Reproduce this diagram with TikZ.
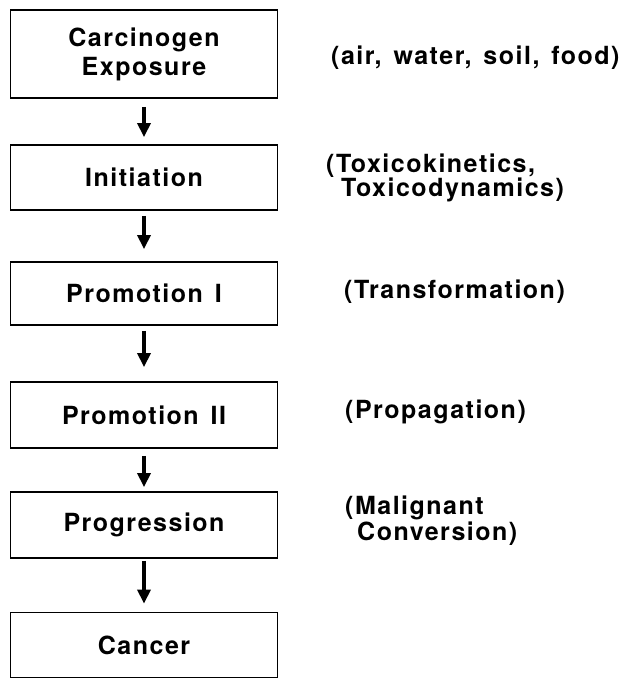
\documentclass[tikz,border=0pt]{standalone}
\usepackage{fontspec}
\newfontfamily\hv[LetterSpace=6,WordSpace=1.4]{TeX Gyre Heros}
\usetikzlibrary{arrows.meta}
\begin{document}
\begin{tikzpicture}[x=1pt,y=-1pt,
  stagebox/.style={draw=black,line width=1.8pt,minimum width=267pt,inner sep=0pt,align=center,
    font=\hv\bfseries\fontsize{25}{29}\selectfont},
  note/.style={anchor=base west,inner sep=0pt,align=left,
    font=\hv\bfseries\fontsize{25}{24}\selectfont},
  flow/.style={line width=3.4pt,-{Triangle[length=14pt,width=13pt]}}]
\useasboundingbox (0,0) rectangle (628,679);
\node[stagebox,minimum height=88pt] (exp) at (144,54) {Carcinogen\\Exposure};
\node[stagebox,minimum height=65pt] (ini) at (144,177.5) {Initiation};
\node[stagebox,minimum height=63pt] (pro1) at (144,293.5) {Promotion I};
\node[stagebox,minimum height=66pt] (pro2) at (144,415) {Promotion II};
\node[stagebox,minimum height=66pt] (prog) at (144,525) {Progression};
\node[stagebox,minimum height=65pt] (can) at (144,645) {Cancer};
\draw[flow,shorten <=8pt,shorten >=7pt] (exp) -- (ini);
\draw[flow,shorten <=5pt,shorten >=12pt] (ini) -- (pro1);
\draw[flow,shorten <=5pt,shorten >=14pt] (pro1) -- (pro2);
\draw[flow,shorten <=7pt,shorten >=4pt] (pro2) -- (prog);
\draw[flow,shorten <=2pt,shorten >=8pt] (prog) -- (can);
\node[note] (n1) at (331,65) {(air, water, soil, food)};
\node[note] (n2) at (326,196) {(Toxicokinetics,\\\hspace*{15pt}Toxicodynamics)};
\node[note] (n3) at (344,298) {(Transformation)};
\node[note] (n4) at (345,418) {(Propagation)};
\node[note] (n5) at (345,540) {(Malignant\\\hspace*{12pt}Conversion)};
\end{tikzpicture}
\end{document}
